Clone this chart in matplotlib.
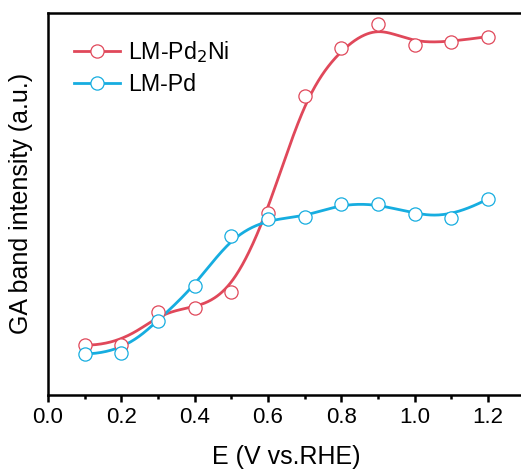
"""
GA band intensity vs potential for LM-Pd2Ni and LM-Pd, B-spline connected.
"""

import numpy as np
import matplotlib
matplotlib.use("Agg")
import matplotlib.pyplot as plt
from matplotlib.ticker import MultipleLocator

plt.rcParams['font.family'] = ['Liberation Sans', 'DejaVu Sans']

potential = [0.1, 0.2, 0.3, 0.4, 0.5, 0.6, 0.7, 0.8, 0.9, 1.0, 1.1, 1.2]
pd2ni = [13.0, 13.0, 21.8, 22.6, 26.8, 47.6, 78.3, 90.9, 97.0, 91.6, 92.5, 93.8]
pd = [10.7, 10.9, 19.4, 28.4, 41.5, 46.0, 46.6, 50.0, 50.0, 47.3, 46.3, 51.3]
labels = ['LM-Pd$_2$Ni', 'LM-Pd']
colors = ['#E0485A', '#16ADE0']


def bspline(x, y, k=3, n=500):
    # clamped uniform B-spline using the points as control points (like Origin)
    P = np.column_stack([x, y])
    m = len(P)
    knots = np.concatenate([np.zeros(k), np.arange(m - k + 1), np.full(k, m - k)]).astype(float)
    t = np.linspace(0, m - k, n)
    N = np.zeros((n, len(knots) - 1))
    for i in range(len(knots) - 1):
        N[:, i] = (knots[i] <= t) & (t < knots[i + 1])
    N[-1, m - 1] = 1.0
    for d in range(1, k + 1):
        Nn = np.zeros((n, len(knots) - 1 - d))
        for i in range(len(knots) - 1 - d):
            a = knots[i + d] - knots[i]
            b = knots[i + d + 1] - knots[i + 1]
            left = (t - knots[i]) / a * N[:, i] if a > 0 else 0
            right = (knots[i + d + 1] - t) / b * N[:, i + 1] if b > 0 else 0
            Nn[:, i] = left + right
        N = Nn
    C = N @ P
    return C[:, 0], C[:, 1]


fig = plt.figure(figsize=(5.21, 4.70), dpi=100)
ax = fig.add_axes([0.092, 0.16, 0.915, 0.8125])

for yv, lab, c in zip([pd2ni, pd], labels, colors):
    sx, sy = bspline(potential, yv)
    ax.plot(sx, sy, color=c, lw=2.0, zorder=2)
    ax.plot(potential, yv, 'o', ms=9.5, mfc='white', mec=c, mew=0.9, zorder=3)
    # legend proxy
    ax.plot([], [], '-o', color=c, lw=2.0, ms=9.5, mfc='white', mec=c, mew=0.9, label=lab)

ax.set_xlim(0, 1.3)
ax.set_ylim(0, 100)
ax.xaxis.set_major_locator(MultipleLocator(0.2))
ax.xaxis.set_minor_locator(MultipleLocator(0.1))
ax.xaxis.set_major_formatter(plt.FuncFormatter(lambda v, p: f'{v:.1f}'))
ax.set_yticks([])
ax.tick_params(axis='x', which='major', direction='out', length=5, width=1.8, labelsize=16, pad=4)
ax.tick_params(axis='x', which='minor', direction='out', length=3, width=1.8)
for s in ax.spines.values():
    s.set_linewidth(1.8)

ax.set_xlabel('E (V vs.RHE)', fontsize=18, labelpad=12)
ax.set_ylabel('GA band intensity (a.u.)', fontsize=18, labelpad=11)

ax.legend(loc='upper left', bbox_to_anchor=(0.035, 0.957), frameon=False, fontsize=16.7,
          handlelength=2.0, handletextpad=0.35, labelspacing=0.38, borderaxespad=0)

fig.savefig('out.png', dpi=100)
